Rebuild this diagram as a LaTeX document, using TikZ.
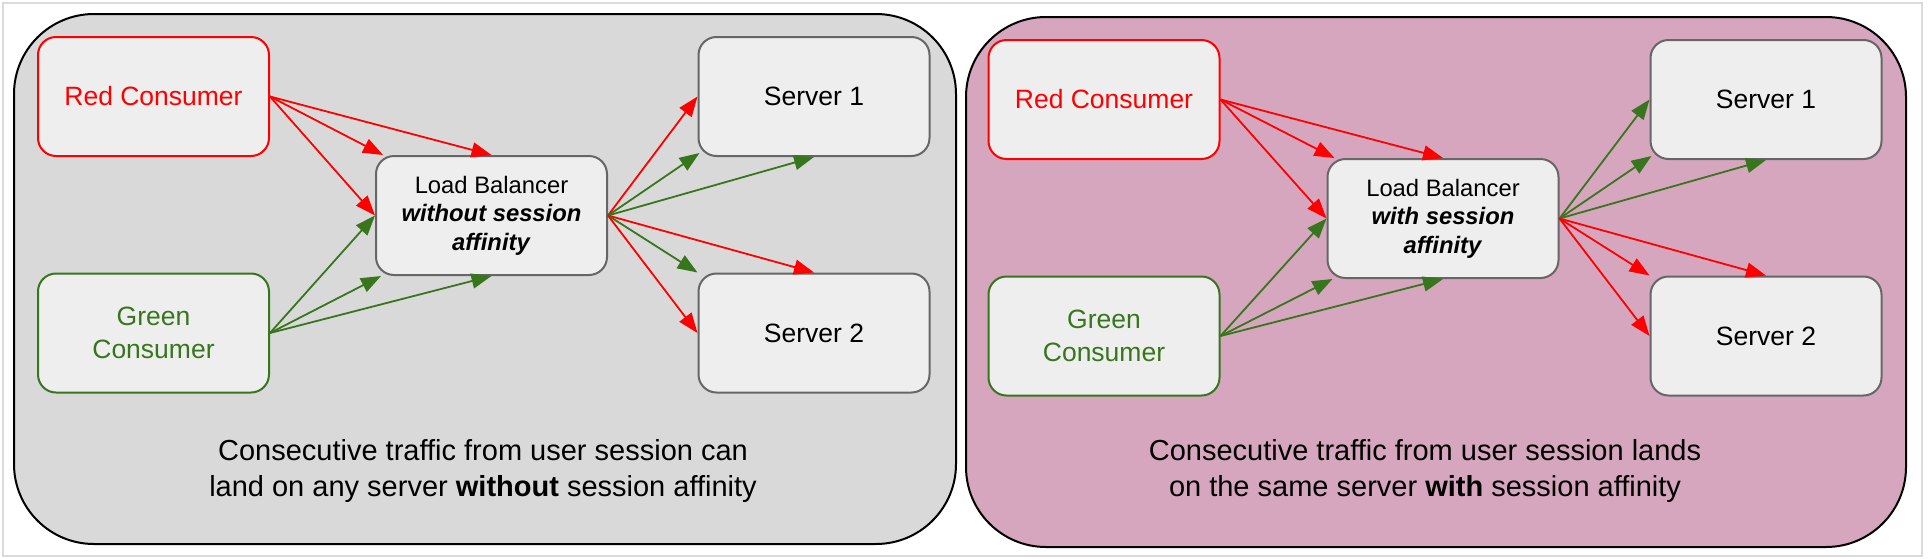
\documentclass[tikz,border=0pt]{standalone}
\usepackage{fontspec}
\setmainfont{Liberation Sans}
\usetikzlibrary{arrows.meta}
\definecolor{dgreen}{HTML}{38761D}
\definecolor{boxfill}{HTML}{EEEEEE}
\definecolor{boxline}{HTML}{666666}
\definecolor{leftbg}{HTML}{D9D9D9}
\definecolor{rightbg}{HTML}{D5A6BD}
\definecolor{framegray}{HTML}{DADADA}
\tikzset{
  panel/.style={draw=black, line width=1pt, rounded corners=40pt},
  box/.style={draw=boxline, fill=boxfill, line width=1pt, rounded corners=9pt,
    minimum width=115.5pt, minimum height=59.5pt, inner sep=0pt, align=center,
    font=\fontsize{13.25pt}{16.5pt}\selectfont},
  redbox/.style={box, draw=red, text=red},
  greenbox/.style={box, draw=dgreen, text=dgreen},
  lbbox/.style={box, font=\fontsize{11.9pt}{14.25pt}\selectfont},
  caption/.style={align=center, inner sep=0pt, font=\fontsize{14.5pt}{18.3pt}\selectfont},
  arr/.style={-{Triangle[length=10pt,width=7.5pt]}, line width=0.9pt},
  rarr/.style={arr, draw=red, fill=red},
  garr/.style={arr, draw=dgreen, fill=dgreen}
}
\begin{document}
\begin{tikzpicture}[x=0.5pt,y=-0.5pt]
\useasboundingbox (0,0) rectangle (1928,558);
\draw[framegray, line width=0.8pt] (3,3) rectangle (1922,556);
% panels
\draw[panel, fill=leftbg] (14,14) rectangle (956,544);
\draw[panel, fill=rightbg] (966,17) rectangle (1906,547);
% left panel nodes
\node[redbox] (rc1) at (153.5,96.5) {Red Consumer};
\node[greenbox] (gc1) at (153.5,333) {Green\\Consumer};
\node[lbbox] (lb1) at (491.5,215.5) {\raisebox{-1.5pt}{\parbox{110pt}{\centering Load Balancer\\\textbf{\textit{without session}}\\\textbf{\textit{affinity}}}}};
\node[box] (sa1) at (814,96.5) {Server 1};
\node[box] (sb1) at (814,333) {Server 2};
\node[caption] (cap1) at (483,471) {Consecutive traffic from user session can\\land on any server \textbf{without} session affinity};
% left panel arrows
\draw[rarr] (rc1.east) -- (lb1.west);
\draw[rarr] (rc1.east) -- ([xshift=4pt]lb1.north west);
\draw[rarr] (rc1.east) -- (lb1.north);
\draw[garr] (gc1.east) -- (lb1.west);
\draw[garr] (gc1.east) -- ([xshift=3pt]lb1.south west);
\draw[garr] (gc1.east) -- (lb1.south);
\draw[rarr] (lb1.east) -- (sa1.west);
\draw[garr] (lb1.east) -- ([xshift=1pt,yshift=2pt]sa1.south west);
\draw[garr] (lb1.east) -- (sa1.south);
\draw[rarr] (lb1.east) -- (sb1.north);
\draw[garr] (lb1.east) -- (sb1.north west);
\draw[rarr] (lb1.east) -- (sb1.west);
% right panel nodes
\node[redbox] (rc2) at (1104,99.5) {Red Consumer};
\node[greenbox] (gc2) at (1104,336) {Green\\Consumer};
\node[lbbox] (lb2) at (1443,218.5) {\raisebox{-1.5pt}{\parbox{110pt}{\centering Load Balancer\\\textbf{\textit{with session}}\\\textbf{\textit{affinity}}}}};
\node[box] (sa2) at (1766,99.5) {Server 1};
\node[box] (sb2) at (1766,336) {Server 2};
\node[caption] (cap2) at (1425,471) {Consecutive traffic from user session lands\\on the same server \textbf{with} session affinity};
% right panel arrows
\draw[rarr] (rc2.east) -- (lb2.west);
\draw[rarr] (rc2.east) -- ([xshift=4pt]lb2.north west);
\draw[rarr] (rc2.east) -- (lb2.north);
\draw[garr] (gc2.east) -- (lb2.west);
\draw[garr] (gc2.east) -- ([xshift=3pt]lb2.south west);
\draw[garr] (gc2.east) -- (lb2.south);
\draw[garr] (lb2.east) -- (sa2.west);
\draw[garr] (lb2.east) -- ([xshift=1pt,yshift=2pt]sa2.south west);
\draw[garr] (lb2.east) -- (sa2.south);
\draw[rarr] (lb2.east) -- (sb2.north);
\draw[rarr] (lb2.east) -- (sb2.north west);
\draw[rarr] (lb2.east) -- (sb2.west);
\end{tikzpicture}
\end{document}
